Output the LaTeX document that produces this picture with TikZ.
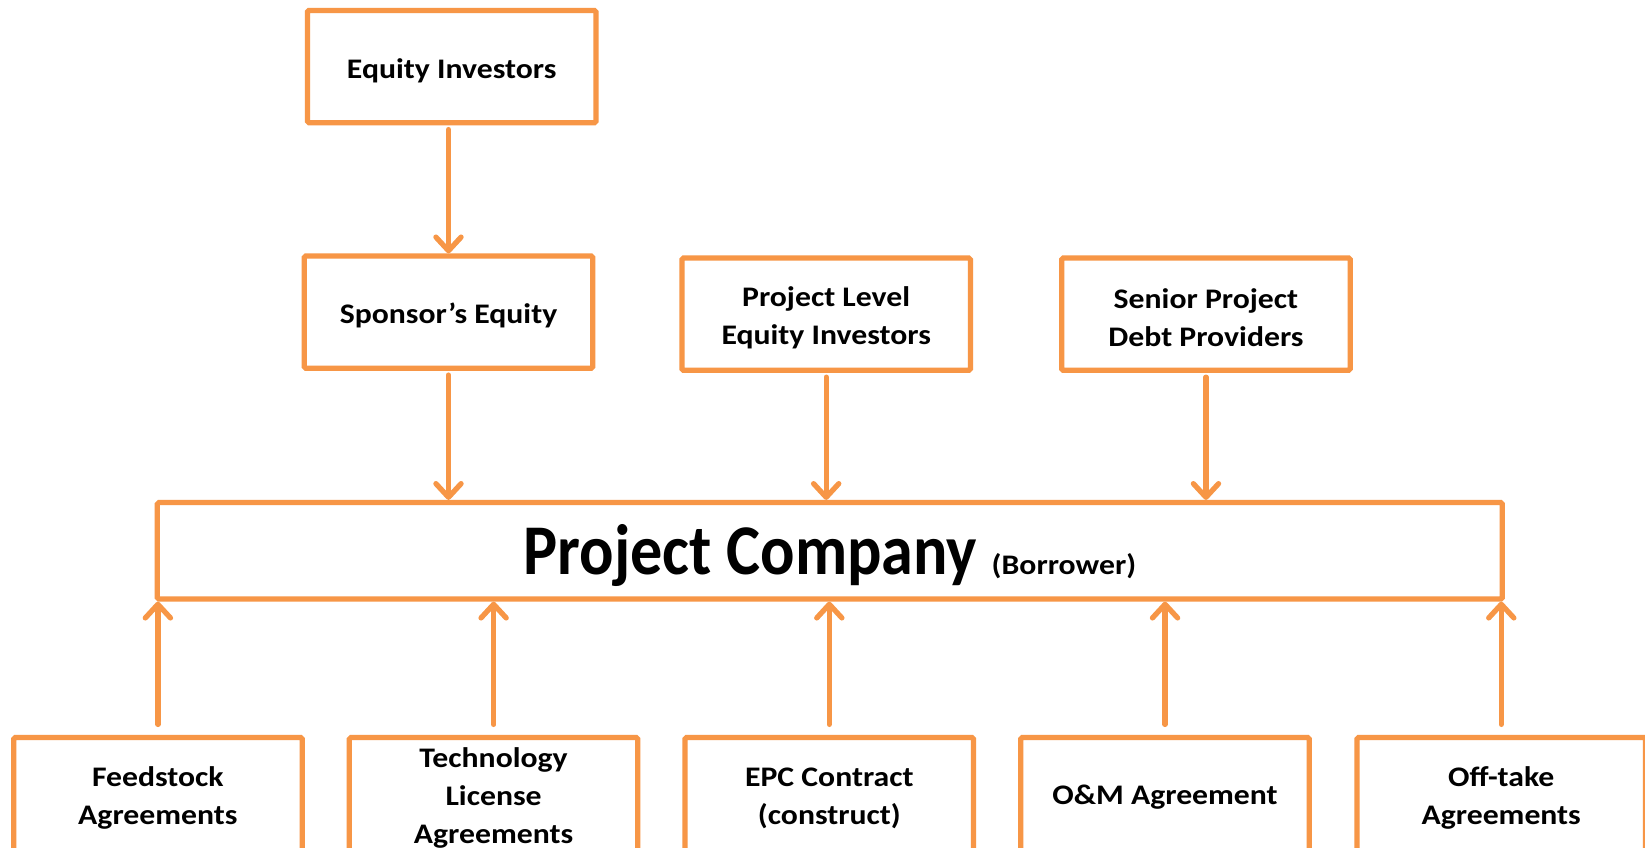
\documentclass[tikz,border=0pt]{standalone}
\usepackage{fontspec}
\setmainfont{Carlito}
\newfontfamily\boxfont[FakeStretch=1.12]{Carlito}
\newfontfamily\pcfont[FakeStretch=0.9]{Carlito}
\usetikzlibrary{arrows.meta}
\definecolor{org}{HTML}{F79646}
\newcommand\mystrut{\rule{0pt}{26pt}}
\begin{document}
\begin{tikzpicture}[x=1pt,y=1pt,
  box/.style={draw=org, line width=5pt, fill=white, minimum width=275pt, minimum height=107pt,
    align=center, inner sep=0pt, rounded corners=1.5pt,
    font=\boxfont\fontsize{27}{36.5}\selectfont\bfseries},
  arr/.style={draw=org, line width=5pt, line cap=round,
    -{Straight Barb[length=13pt,width=24pt,line cap=round,line join=round]},
    preaction={draw=black, opacity=0.12, transform canvas={xshift=1.2pt,yshift=-1.8pt}}}]
\useasboundingbox[fill=white] (0,0) rectangle (1568,-808);
% top row
\node[box] (ei) at (430.5,-63.5) {\mystrut Equity Investors};
\node[box] (se) at (427.5,-297.5) {\mystrut Sponsor’s Equity};
\node[box] (pl) at (787.5,-299.5) {\mystrut Project Level\\Equity Investors};
\node[box] (sp) at (1149.5,-299.5) {\mystrut Senior Project\\Debt Providers};
% project company
\node[box, minimum width=1282pt, minimum height=92pt] (pc) at (791,-525)
  {\rule{0pt}{57pt}\pcfont\fontsize{68}{80}\selectfont Project Company \boxfont\fontsize{27}{30}\selectfont(Borrower)};
% bottom row
\node[box, minimum height=108pt] (fs) at (150.5,-757) {\mystrut Feedstock\\Agreements};
\node[box, minimum height=108pt] (tl) at (470.5,-757) {\mystrut Technology\\License\\Agreements};
\node[box, minimum height=108pt] (epc) at (790.5,-757) {\mystrut EPC Contract\\(construct)};
\node[box, minimum height=108pt] (om) at (1110.5,-757) {\rule{0pt}{24pt}O\&M Agreement};
\node[box, minimum height=108pt] (ot) at (1431,-757) {\mystrut Off-take\\Agreements};
% arrows down
\draw[arr] ([yshift=-4pt]ei.south -| se.north) -- (se.north);
\draw[arr] ([yshift=-4pt]se.south) -- (pc.north -| se.south);
\draw[arr] ([yshift=-4pt]pl.south) -- (pc.north -| pl.south);
\draw[arr] ([yshift=-4pt]sp.south) -- (pc.north -| sp.south);
% arrows up
\draw[arr] ([yshift=10pt]fs.north) -- (pc.south -| fs.north);
\draw[arr] ([yshift=10pt]tl.north) -- (pc.south -| tl.north);
\draw[arr] ([yshift=10pt]epc.north) -- (pc.south -| epc.north);
\draw[arr] ([yshift=10pt]om.north) -- (pc.south -| om.north);
\draw[arr] ([yshift=10pt]ot.north) -- (pc.south -| ot.north);
\end{tikzpicture}
\end{document}
